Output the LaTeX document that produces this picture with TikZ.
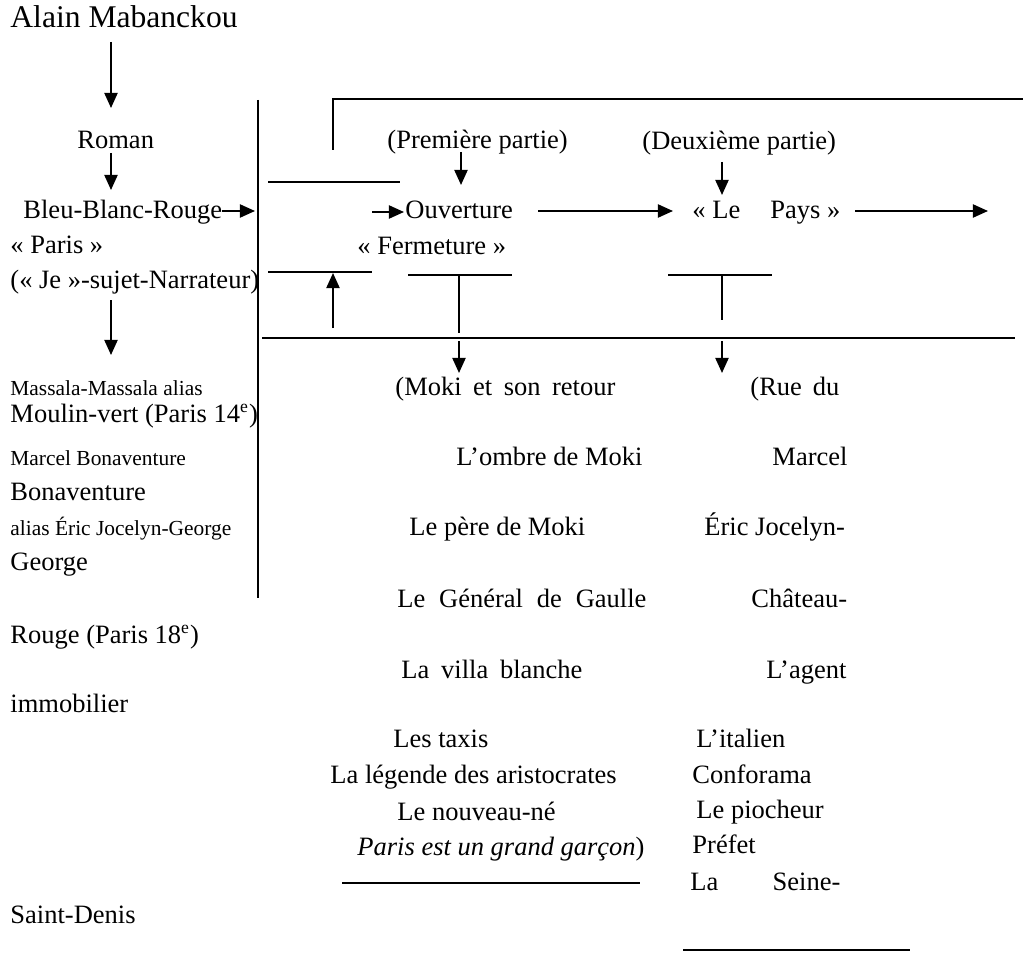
\documentclass[tikz,border=0pt]{standalone}
\usepackage{fontspec}
\setmainfont{Liberation Serif}
\usetikzlibrary{arrows.meta}
\newlength\pxu
\setlength\pxu{0.4528pt}

\begin{document}
\begin{tikzpicture}[x=0.4528pt,y=-0.4528pt,
  txt/.style={anchor=base west,inner sep=0pt,font=\fontsize{12}{14}\selectfont},
  big/.style={txt,font=\fontsize{14.3}{17}\selectfont},
  sml/.style={txt,font=\fontsize{9.7}{12}\selectfont},
  ln/.style={line width=0.9pt},
  arr/.style={ln,-{Triangle[length=6.8pt,width=5.9pt]}}]
\useasboundingbox (0,0) rectangle (1023,953);
% left column
\node[big] (alain) at (10,28) {Alain Mabanckou};
\node[txt] (roman) at (77,148) {Roman};
\node[txt] (bbr) at (23,218) {Bleu-Blanc-Rouge};
\node[txt] (paris) at (10,253) {«~Paris~»};
\node[txt] (je) at (10,288) {(«~Je~»-sujet-Narrateur)};
\node[sml] (massala) at (10,395) {Massala-Massala alias};
\node[txt] (moulin) at (10,422) {Moulin-vert (Paris 14\textsuperscript{e})};
\node[sml] (marcelL) at (10,465) {Marcel Bonaventure};
\node[txt] (bonav) at (10,500) {Bonaventure};
\node[sml] (alias) at (10,535) {alias Éric Jocelyn-George};
\node[txt] (george) at (10,570) {George};
\node[txt] (rouge) at (10,643) {Rouge (Paris 18\textsuperscript{e})};
\node[txt] (immob) at (10,712) {immobilier};
\node[txt] (saint) at (10,923) {Saint-Denis};
% parts
\node[txt] (premiere) at (387,148) {(Première partie)};
\node[txt] (ouverture) at (405,218) {Ouverture};
\node[txt] (fermeture) at (357,255) {«~Fermeture~»};
\node[txt] (deuxieme) at (642,150) {(Deuxième partie)};
\node[txt] (pays) at (692,218) {\makebox[148\pxu][s]{\mbox{«\kern3pt Le} \mbox{Pays\kern3pt »}}};
% first part
\node[txt] (moki) at (395,395) {\makebox[220\pxu][s]{(Moki et son retour}};
\node[txt] (ombre) at (456,465) {L’ombre de Moki};
\node[txt] (pere) at (409,535) {Le père de Moki};
\node[txt] (gaulle) at (397,607) {\makebox[249\pxu][s]{Le Général de Gaulle}};
\node[txt] (villa) at (401,678) {\makebox[181\pxu][s]{La villa blanche}};
\node[txt] (taxis) at (393,747) {Les taxis};
\node[txt] (legende) at (330,783) {La légende des aristocrates};
\node[txt] (nouveau) at (397,820) {Le nouveau-né};
\node[txt] (garcon) at (357,855) {\textit{Paris est un grand garçon})};
% second part
\node[txt] (rue) at (750,395) {\makebox[89\pxu][s]{(Rue du}};
\node[txt] (marcelR) at (772,465) {Marcel};
\node[txt] (eric) at (704,535) {Éric Jocelyn-};
\node[txt] (chateau) at (751,607) {Château-};
\node[txt] (agent) at (766,678) {L’agent};
\node[txt] (italien) at (696,747) {L’italien};
\node[txt] (confo) at (692,783) {Conforama};
\node[txt] (piocheur) at (696,818) {Le piocheur};
\node[txt] (prefet) at (692,853) {Préfet};
\node[txt] (seine) at (690,890) {\makebox[150\pxu][s]{La Seine-}};
% line ends
\coordinate (a1s) at (111,42);   \coordinate (a1e) at (111,108);
\coordinate (a2s) at (111,153);  \coordinate (a2e) at (111,190);
\coordinate (a3s) at (222,211);  \coordinate (a3e) at (255,211);
\coordinate (a4s) at (111,300);  \coordinate (a4e) at (111,355);
\coordinate (vt) at (258,100);   \coordinate (vb) at (258,598);
\coordinate (bl) at (333,150);   \coordinate (bt) at (333,99);   \coordinate (br) at (1023,99);
\coordinate (h1l) at (268,182);  \coordinate (h1r) at (400,182);
\coordinate (h2l) at (268,272);  \coordinate (h2r) at (372,272);
\coordinate (upb) at (333,328);  \coordinate (upt) at (333,273);
\coordinate (t1l) at (408,275);  \coordinate (t1r) at (512,275);
\coordinate (t1t) at (459,275);  \coordinate (t1b) at (459,333);
\coordinate (t2l) at (668,275);  \coordinate (t2r) at (772,275);
\coordinate (t2t) at (722,275);  \coordinate (t2b) at (722,320);
\coordinate (ll) at (262,338);   \coordinate (lr) at (1015,338);
\coordinate (p1s) at (461,152);  \coordinate (p1e) at (461,185);
\coordinate (o1s) at (372,212);  \coordinate (o1e) at (404,212);
\coordinate (o2s) at (538,211);  \coordinate (o2e) at (673,211);
\coordinate (p2s) at (722,162);  \coordinate (p2e) at (722,195);
\coordinate (o3s) at (855,211);  \coordinate (o3e) at (988,211);
\coordinate (d1s) at (459,341);  \coordinate (d1e) at (459,373);
\coordinate (d2s) at (722,341);  \coordinate (d2e) at (722,373);
\coordinate (h3l) at (342,883);  \coordinate (h3r) at (640,883);
\coordinate (h4l) at (683,950);  \coordinate (h4r) at (910,950);
% connectors
\draw[arr] (a1s)--(a1e);\draw[arr] (a2s)--(a2e);\draw[arr] (a3s)--(a3e);\draw[arr] (a4s)--(a4e);
\draw[ln] (vt)--(vb);
\draw[ln] (bl)--(bt)--(br);
\draw[ln] (h1l)--(h1r);\draw[ln] (h2l)--(h2r);
\draw[arr] (upb)--(upt);
\draw[ln] (t1l)--(t1r);\draw[ln] (t1t)--(t1b);
\draw[ln] (t2l)--(t2r);\draw[ln] (t2t)--(t2b);
\draw[line width=1.2pt] (ll)--(lr);
\draw[arr] (p1s)--(p1e);\draw[arr] (p2s)--(p2e);
\draw[arr] (o1s)--(o1e);\draw[arr] (o2s)--(o2e);\draw[arr] (o3s)--(o3e);
\draw[arr] (d1s)--(d1e);\draw[arr] (d2s)--(d2e);
\draw[line width=1.2pt] (h3l)--(h3r);\draw[line width=1.2pt] (h4l)--(h4r);
\end{tikzpicture}
\end{document}
